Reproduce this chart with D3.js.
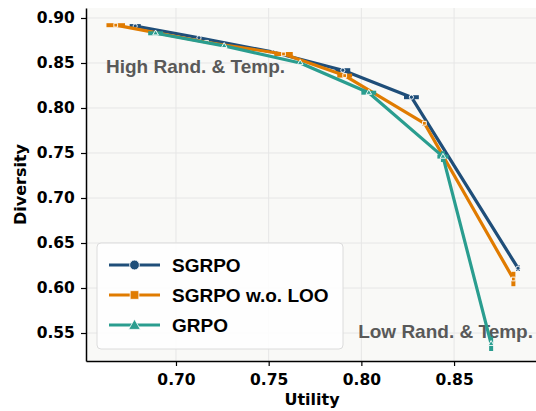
<!DOCTYPE html>
<html><head><meta charset="utf-8">
<script src="https://cdn.jsdelivr.net/npm/d3@7"></script>
<style>body{margin:0;background:#fff}svg{display:block}</style>
</head><body>
<script>
const seriesNames = ["SGRPO", "SGRPO w.o. LOO", "GRPO"];
const colors = ["#1f4e79", "#e07b00", "#2a9d8f"];
const sgrpoU = [0.678, 0.7124, 0.7525, 0.790, 0.827, 0.8845];
const sgrpoD = [0.891, 0.878, 0.862, 0.842, 0.812, 0.622];
const sgrpoXerr = [0.003, 0, 0, 0.004, 0.004, 0];
const sgrpoYerr = [0, 0, 0, 0, 0, 0.003];
const looU = [0.6675, 0.7165, 0.758, 0.791, 0.834, 0.882];
const looD = [0.892, 0.873, 0.860, 0.836, 0.783, 0.610];
const looXerr = [0.005, 0, 0.005, 0.004, 0, 0];
const looYerr = [0, 0, 0, 0, 0.003, 0.008];
const grpoU = [0.689, 0.726, 0.767, 0.804, 0.844, 0.870];
const grpoD = [0.883, 0.869, 0.850, 0.817, 0.746, 0.538];
const grpoXerr = [0.004, 0, 0, 0.004, 0.003, 0];
const grpoYerr = [0, 0, 0, 0, 0.006, 0.008];
const xTicks = [0.70, 0.75, 0.80, 0.85];
const yTicks = [0.55, 0.60, 0.65, 0.70, 0.75, 0.80, 0.85, 0.90];
const annotations = ["High Rand. & Temp.", "Low Rand. & Temp."];

const W = 536, H = 411;
const m = {left: 86, right: 0, top: 8, bottom: 50};
const svg = d3.select("body").append("svg").attr("width", W).attr("height", H);
const x = d3.scaleLinear().domain([0.65146, 0.8942]).range([m.left, W - m.right]);
const y = d3.scaleLinear().domain([0.5189, 0.9111]).range([H - m.bottom, m.top]);
const font = "'Liberation Sans', Arial, sans-serif";
const tfont = "'DejaVu Sans', sans-serif";

svg.append("rect").attr("x", m.left).attr("y", m.top)
  .attr("width", W - m.right - m.left).attr("height", H - m.bottom - m.top).attr("fill", "#f9f9f7");
// grid
svg.append("g").selectAll("line").data(xTicks).join("line")
  .attr("x1", d => x(d)).attr("x2", d => x(d)).attr("y1", m.top).attr("y2", H - m.bottom)
  .attr("stroke", "#e6e6e6").attr("stroke-width", 1);
svg.append("g").selectAll("line").data(yTicks).join("line")
  .attr("y1", d => y(d)).attr("y2", d => y(d)).attr("x1", m.left).attr("x2", W - m.right)
  .attr("stroke", "#e6e6e6").attr("stroke-width", 1);

// axes
const xa = svg.append("g").attr("transform", `translate(0,${H - m.bottom})`)
  .call(d3.axisBottom(x).tickValues(xTicks).tickFormat(d3.format(".2f")).tickSize(5).tickSizeOuter(0));
const ya = svg.append("g").attr("transform", `translate(${m.left},0)`)
  .call(d3.axisLeft(y).tickValues(yTicks).tickFormat(d3.format(".2f")).tickSize(5).tickSizeOuter(0));
[xa, ya].forEach(a => {
  a.select(".domain").attr("stroke", "#000").attr("stroke-width", 1.5);
  a.selectAll(".tick line").attr("stroke", "#000").attr("stroke-width", 1.2);
  a.selectAll(".tick text").attr("font-family", tfont).attr("font-weight", "bold")
    .attr("font-size", 15.5).attr("fill", "#000");
});
xa.selectAll(".tick text").attr("dy", "1.0em");
ya.selectAll(".tick text").attr("dx", "-0.2em");

svg.append("text").attr("x", 312).attr("y", 405).attr("text-anchor", "middle")
  .attr("font-family", tfont).attr("font-weight", "bold").attr("font-size", 16).text("Utility");
svg.append("text").attr("transform", `translate(26,${(m.top + H - m.bottom) / 2}) rotate(-90)`)
  .attr("text-anchor", "middle").attr("font-family", tfont).attr("font-weight", "bold")
  .attr("font-size", 16).text("Diversity");

// annotations
svg.append("text").attr("x", 106).attr("y", 73).attr("font-family", font).attr("font-weight", "bold")
  .attr("font-size", 19).attr("fill", "#595959").text(annotations[0]);
svg.append("text").attr("x", 533).attr("y", 338).attr("text-anchor", "end").attr("font-family", font).attr("font-weight", "bold")
  .attr("font-size", 19).attr("fill", "#595959").text(annotations[1]);

const series = [
  {u: sgrpoU, d: sgrpoD, xe: sgrpoXerr, ye: sgrpoYerr, shape: d3.symbolCircle},
  {u: looU, d: looD, xe: looXerr, ye: looYerr, shape: d3.symbolSquare},
  {u: grpoU, d: grpoD, xe: grpoXerr, ye: grpoYerr, shape: d3.symbolTriangle}
];
const line = d3.line().x(p => x(p[0])).y(p => y(p[1]));
series.forEach((s, i) => {
  const pts = s.u.map((u, j) => [u, s.d[j], s.xe[j], s.ye[j]]);
  const g = svg.append("g");
  g.append("path").datum(pts).attr("d", line).attr("fill", "none")
    .attr("stroke", colors[i]).attr("stroke-width", 3.2).attr("stroke-linejoin", "round");
  g.selectAll(".xe").data(pts.filter(p => p[2] > 0)).join("line")
    .attr("x1", p => x(p[0] - p[2])).attr("x2", p => x(p[0] + p[2]))
    .attr("y1", p => y(p[1])).attr("y2", p => y(p[1]))
    .attr("stroke", colors[i]).attr("stroke-width", 4);
  g.selectAll(".ye").data(pts.filter(p => p[3] > 0)).join("line")
    .attr("x1", p => x(p[0])).attr("x2", p => x(p[0]))
    .attr("y1", p => y(p[1] - p[3])).attr("y2", p => y(p[1] + p[3]))
    .attr("stroke", colors[i]).attr("stroke-width", 4);
  g.selectAll("path.mk").data(pts).join("path").attr("class", "mk")
    .attr("transform", p => `translate(${x(p[0])},${y(p[1])})`)
    .attr("d", d3.symbol().type(s.shape).size(14))
    .attr("fill", colors[i]).attr("stroke", "#fff").attr("stroke-width", 0.9);
});

// legend
const lg = svg.append("g");
lg.append("rect").attr("x", 97).attr("y", 243).attr("width", 246).attr("height", 106)
  .attr("rx", 4).attr("fill", "#fff").attr("fill-opacity", 0.85).attr("stroke", "#dcdcdc").attr("stroke-width", 1);
seriesNames.forEach((n, i) => {
  const yy = 265 + i * 30;
  lg.append("line").attr("x1", 109).attr("x2", 160).attr("y1", yy).attr("y2", yy)
    .attr("stroke", colors[i]).attr("stroke-width", 3.2);
  lg.append("path").attr("transform", `translate(134.5,${yy + (i === 2 ? 1 : 0)})`)
    .attr("d", d3.symbol().type(series[i].shape).size(i === 2 ? 60 : 75))
    .attr("fill", colors[i]).attr("stroke", "#fff").attr("stroke-width", 0.8);
  lg.append("text").attr("x", 172).attr("y", yy + 7).attr("font-family", font)
    .attr("font-weight", "bold").attr("font-size", 19).attr("fill", "#000").text(n);
});
</script>
</body></html>
